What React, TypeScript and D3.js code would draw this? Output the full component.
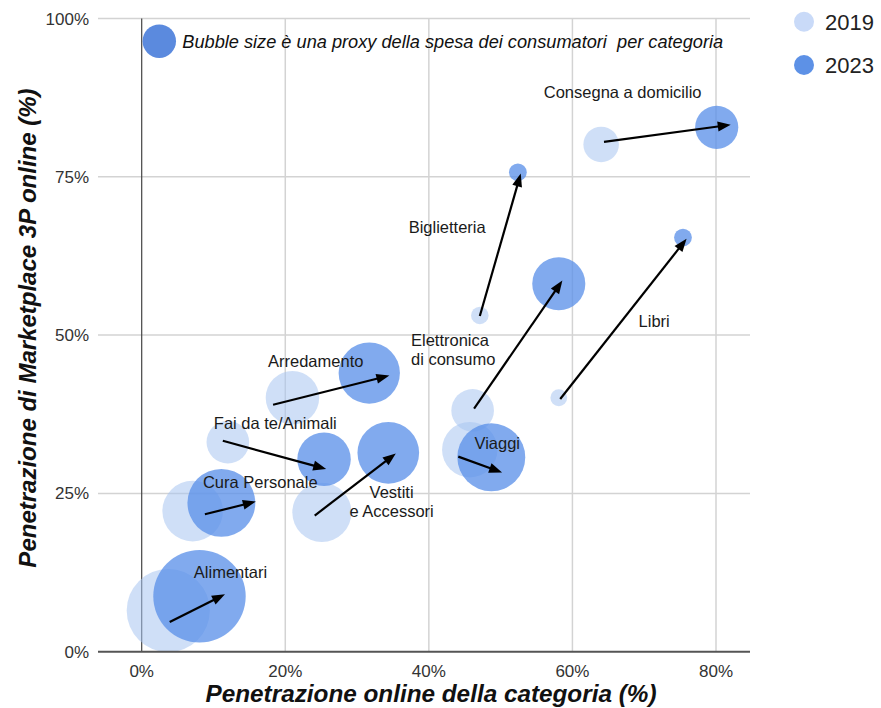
import React from 'react';
import * as d3 from 'd3';

// Categories and their position in 2019 and 2023 (percent values)
const categories = [
  'Alimentari',
  'Cura Personale',
  'Fai da te/Animali',
  'Arredamento',
  'Vestiti e Accessori',
  'Viaggi',
  'Elettronica di consumo',
  'Biglietteria',
  'Libri',
  'Consegna a domicilio',
];
const online2019 = [3.7, 7.1, 12.0, 21.0, 25.1, 45.7, 46.1, 47.1, 58.1, 64.0];
const marketplace2019 = [6.5, 22.2, 33.1, 40.1, 22.0, 31.9, 38.1, 53.1, 40.1, 80.1];
const spend2019 = [81, 43, 21.3, 33.5, 41, 36, 21.3, 3.6, 3.3, 14.8];

const online2023 = [8.05, 11.1, 25.4, 31.7, 34.35, 48.7, 58.1, 52.4, 75.4, 80.1];
const marketplace2023 = [8.75, 23.5, 30.4, 44.0, 31.4, 30.7, 58.1, 75.7, 65.4, 82.8];
const spend2023 = [100, 54, 33.5, 44, 44.5, 54, 33, 3.7, 3.7, 21.8];

// Arrows (percent coordinates): start and end
const arrowFromX = [3.9, 8.8, 11.3, 18.3, 24.1, 44.1, 46.3, 47.1, 58.3, 64.4];
const arrowFromY = [4.7, 21.7, 33.3, 39.0, 21.5, 30.8, 38.4, 53.0, 39.9, 80.5];
const arrowToX = [11.6, 15.9, 25.7, 34.5, 35.4, 50.2, 58.6, 52.8, 75.9, 82.05];
const arrowToY = [9.06, 23.7, 28.85, 43.6, 31.3, 28.3, 58.6, 75.5, 65.2, 83.2];

// Category labels (percent coordinates of the first line)
const labelLines = [
  ['Alimentari'],
  ['Cura Personale'],
  ['Fai da te/Animali'],
  ['Arredamento'],
  ['Vestiti', 'e Accessori'],
  ['Viaggi'],
  ['Elettronica', 'di consumo'],
  ['Biglietteria'],
  ['Libri'],
  ['Consegna a domicilio'],
];
const labelX = [12.37, 16.52, 18.61, 24.24, 34.81, 49.53, 37.51, 42.55, 71.39, 67.0];
const labelY = [11.6, 25.8, 35.16, 45.0, 24.32, 31.96, 48.32, 66.06, 51.32, 87.38];
const labelAnchor = ['middle', 'middle', 'middle', 'middle', 'middle', 'middle', 'start', 'middle', 'middle', 'middle'];

const xTicks = [0, 20, 40, 60, 80];
const yTicks = [0, 25, 50, 75, 100];
const years = ['2019', '2023'];

// Size-key bubble
const keyX = 2.45;
const keyY = 96.4;
const keySpend = 13.1;
const keyText = 'Bubble size è una proxy della spesa dei consumatori  per categoria';

const W = 881;
const H = 708;
const plotLeft = 98;
const plotRight = 750;
const FONT = '"Liberation Sans", Arial, sans-serif';

const x = d3.scaleLinear().domain([0, 80]).range([141.7, 716]);
const y = d3.scaleLinear().domain([0, 100]).range([651.7, 18.4]);
const r = d3.scaleSqrt().domain([0, 100]).range([0, 46.2]);

const COLOR_2019 = '#a8c4f0';
const COLOR_2023 = '#5a8fe9';

function Arrow({ x1, y1, x2, y2 }: { x1: number; y1: number; x2: number; y2: number }) {
  const ang = Math.atan2(y2 - y1, x2 - x1);
  const len = 13;
  const half = 5;
  const bx = x2 - len * Math.cos(ang);
  const by = y2 - len * Math.sin(ang);
  const px = -Math.sin(ang) * half;
  const py = Math.cos(ang) * half;
  const pts = `${x2},${y2} ${bx + px},${by + py} ${bx - px},${by - py}`;
  return (
    <g>
      <line x1={x1} y1={y1} x2={bx + Math.cos(ang) * 2} y2={by + Math.sin(ang) * 2} stroke="#000" strokeWidth={2.2} />
      <polygon points={pts} fill="#000" />
    </g>
  );
}

export default function App() {
  const idx = categories.map((_, i) => i);
  return (
    <svg
      width={W}
      height={H}
      viewBox={`0 0 ${W} ${H}`}
      style={{ position: 'absolute', left: 0, top: 0, background: '#fff' }}
      fontFamily={FONT}
    >
      <defs>
        <clipPath id="plot-clip">
          <rect x={plotLeft} y={y(100)} width={plotRight - plotLeft} height={y(0) - y(100)} />
        </clipPath>
      </defs>

      {/* grid */}
      {yTicks.filter((t) => t > 0).map((t) => (
        <line key={`gy${t}`} x1={plotLeft} x2={plotRight} y1={y(t)} y2={y(t)} stroke="#d3d3d3" strokeWidth={1.5} />
      ))}
      {xTicks.filter((t) => t > 0).map((t) => (
        <line key={`gx${t}`} x1={x(t)} x2={x(t)} y1={y(100)} y2={y(0)} stroke="#d3d3d3" strokeWidth={1.5} />
      ))}
      <line x1={x(0)} x2={x(0)} y1={y(100)} y2={y(0)} stroke="#444" strokeWidth={1.2} />

      {/* bubbles */}
      <g clipPath="url(#plot-clip)">
        {idx.map((i) => (
          <circle key={`b19${i}`} cx={x(online2019[i])} cy={y(marketplace2019[i])} r={r(spend2019[i])} fill={COLOR_2019} fillOpacity={0.55} />
        ))}
        {idx.map((i) => (
          <circle key={`b23${i}`} cx={x(online2023[i])} cy={y(marketplace2023[i])} r={r(spend2023[i])} fill={COLOR_2023} fillOpacity={0.76} />
        ))}
        <circle cx={x(keyX)} cy={y(keyY)} r={r(keySpend)} fill="#5b8ade" />
      </g>

      {/* bottom axis line */}
      <line x1={plotLeft} x2={plotRight} y1={y(0)} y2={y(0)} stroke="#555" strokeWidth={2} />

      {/* arrows */}
      {idx.map((i) => (
        <Arrow
          key={`a${i}`}
          x1={x(arrowFromX[i])}
          y1={y(arrowFromY[i])}
          x2={x(arrowToX[i])}
          y2={y(arrowToY[i])}
        />
      ))}

      {/* labels */}
      {idx.map((i) => (
        <text key={`l${i}`} x={x(labelX[i])} y={y(labelY[i])} fontSize={16.5} fill="#1a1a1a" textAnchor={labelAnchor[i] as any}>
          {labelLines[i].map((ln, j) => (
            <tspan key={j} x={x(labelX[i])} dy={j === 0 ? 0 : 19.5}>
              {ln}
            </tspan>
          ))}
        </text>
      ))}

      <text x={x(keyX) + 23} y={47.7} fontSize={18.2} fontStyle="italic" fill="#111" style={{ whiteSpace: 'pre' }}>
        {keyText}
      </text>

      {/* tick labels */}
      {yTicks.map((t) => (
        <text key={`ty${t}`} x={89} y={y(t)} dy="0.36em" textAnchor="end" fontSize={17} fill="#333">
          {`${t}%`}
        </text>
      ))}
      {xTicks.map((t) => (
        <text key={`tx${t}`} x={x(t)} y={676.7} textAnchor="middle" fontSize={17} fill="#333">
          {`${t}%`}
        </text>
      ))}

      {/* axis titles */}
      <text x={431} y={702} textAnchor="middle" fontSize={24.3} fontWeight="bold" fontStyle="italic" fill="#111">
        Penetrazione online della categoria (%)
      </text>
      <text
        transform={`translate(36,${328}) rotate(-90)`}
        textAnchor="middle"
        fontSize={24}
        fontWeight="bold"
        fontStyle="italic"
        fill="#111"
      >
        Penetrazione di Marketplace 3P online (%)
      </text>

      {/* legend */}
      {years.map((yr, i) => (
        <g key={yr} transform={`translate(804,${21.7 + i * 43.3})`}>
          <circle r={10} fill={i === 0 ? '#c9daf8' : '#5d91e6'} />
          <text x={21} y={7.8} fontSize={22} fill="#222">
            {yr}
          </text>
        </g>
      ))}
    </svg>
  );
}
